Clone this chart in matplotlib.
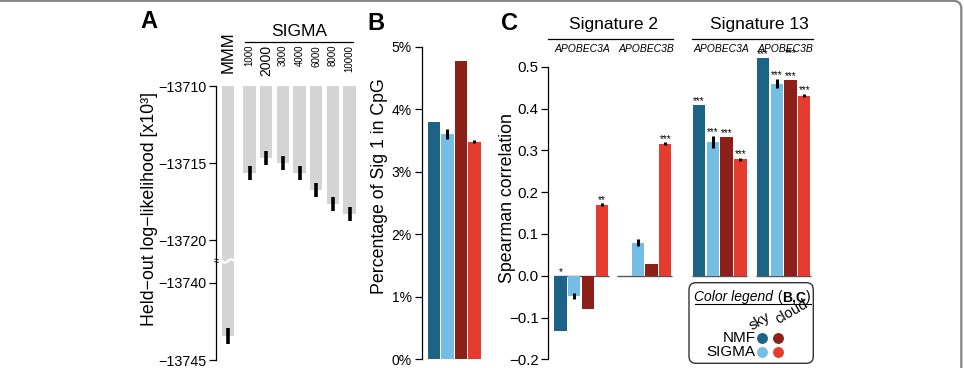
import numpy as np
import matplotlib
matplotlib.use("Agg")
import matplotlib.pyplot as plt
from matplotlib.patches import FancyBboxPatch
from matplotlib.lines import Line2D

plt.rcParams['font.family'] = ['Liberation Sans', 'DejaVu Sans']

# ---------------- data ----------------
a_labels = ["MMM", "1000", "2000", "3000", "4000", "6000", "8000", "10000"]
a_values = [-13743.44, -13715.66, -13714.65, -13714.97, -13715.66, -13716.74, -13717.63, -13718.32]
a_errors = [0.53, 0.45, 0.46, 0.45, 0.46, 0.45, 0.45, 0.45]
a_yticks = [-13710, -13715, -13720, -13740, -13745]

b_methods = ["NMF sky", "SIGMA sky", "NMF cloud", "SIGMA cloud"]
b_values = [3.79, 3.60, 4.77, 3.48]
b_errors = [0.0, 0.08, 0.0, 0.02]
b_yticks = [0, 1, 2, 3, 4, 5]

c_signatures = ["Signature 2", "Signature 13"]
c_genes = ["APOBEC3A", "APOBEC3B", "APOBEC3A", "APOBEC3B"]
c_nmf_sky = [-0.133, 0.0, 0.409, 0.520]
c_sigma_sky = [-0.048, 0.079, 0.320, 0.459]
c_nmf_cloud = [-0.079, 0.029, 0.332, 0.469]
c_sigma_cloud = [0.170, 0.316, 0.278, 0.431]
c_sigma_sky_err = [0.007, 0.008, 0.014, 0.011]
c_sigma_cloud_err = [0.003, 0.003, 0.004, 0.003]
c_stars = [["*", "", "", "**"],
           ["", "", "", "***"],
           ["***", "***", "***", "***"],
           ["***", "***", "***", "***"]]
c_yticks = [-0.2, -0.1, 0.0, 0.1, 0.2, 0.3, 0.4, 0.5]

# ---------------- style ----------------
C_NMF_SKY = "#1c6387"
C_SIG_SKY = "#74bde4"
C_NMF_CLOUD = "#8c1f18"
C_SIG_CLOUD = "#e43d30"
GRAY = "#d4d4d4"
W, H = 964, 368

fig = plt.figure(figsize=(W / 100, H / 100), dpi=100)


def rect(x0, ytop, x1, ybot):
    return [x0 / W, 1 - ybot / H, (x1 - x0) / W, (ybot - ytop) / H]


def inch(x, y):
    return (x / 100.0, (H - y) / 100.0)


def style_axis(ax, labelsize=10):
    for s in ["top", "right", "bottom"]:
        ax.spines[s].set_visible(False)
    ax.spines["left"].set_linewidth(0.9)
    ax.tick_params(axis="y", length=5, width=0.9, labelsize=labelsize, pad=2)
    ax.tick_params(axis="x", bottom=False, labelbottom=False)
    ax.patch.set_alpha(0)


def minus(s):
    return s.replace("-", "\u2212")


# ---------------- panel A ----------------
U = -13721.35
OFF = 17.23
EPS = 0.01
L = U - EPS - OFF


def fwd(v):
    v = np.asarray(v, dtype=float)
    return np.where(v >= U, v, np.where(v <= L, v + OFF, U - (U - v) * EPS / (U - L)))


def inv(y):
    y = np.asarray(y, dtype=float)
    return np.where(y >= U, y, np.where(y <= U - EPS, y - OFF, U - (U - y) * (U - L) / EPS))


A_TOP, A_BOT = 86, 360
axA = fig.add_axes(rect(216, A_TOP, 358, A_BOT))
axA.set_yscale("function", functions=(fwd, inv))
axA.set_ylim(-13745, -13710)
a_x = [0.0] + [1.29 + i for i in range(len(a_labels) - 1)]
axA.bar(a_x, np.array(a_values) + 13710, bottom=-13710, width=0.74, color=GRAY, linewidth=0)
axA.errorbar(a_x, a_values, yerr=a_errors, fmt="none", ecolor="black", elinewidth=2.6, capsize=0)
axA.set_xlim(-0.72, 7.8)
style_axis(axA, 10.3)
axA.set_yticks(a_yticks)
axA.set_yticklabels([minus(str(v)) for v in a_yticks])
axA.yaxis.set_minor_locator(matplotlib.ticker.NullLocator())
axA.set_ylabel("Held\u2212out log\u2212likelihood [x10\u00b3]", fontsize=12.8)
axA.yaxis.set_label_coords((150 - 216) / 142, (A_BOT - 209.5) / (A_BOT - A_TOP))
axA.yaxis.label.set_verticalalignment("center")

# break marks
ymin_m = float(fwd(-13745))
brk = (U - ymin_m) / (-13710 - ymin_m)
xt = axA.get_xaxis_transform()
wx = np.linspace(-0.37, 0.37, 40)
wy = brk + 0.006 * np.sin((wx + 0.37) / 0.74 * 2 * np.pi + np.pi)
axA.plot(wx, wy, color="white", lw=1.6, transform=xt, clip_on=False)
axA.text(0, brk, "\u2248", transform=axA.transAxes, ha="center", va="center", fontsize=7)

# labels above A
def a_frac(px):
    return (A_BOT - px) / (A_BOT - A_TOP)

axA.text(a_x[0], a_frac(73), a_labels[0], rotation=90, ha="center", va="bottom",
         fontsize=12, transform=xt, clip_on=False)
for xx, lab in zip(a_x[1:], a_labels[1:]):
    axA.text(xx, a_frac(45), lab, rotation=90, ha="center", va="top",
             fontsize=10 if lab == "2000" else 7, transform=xt, clip_on=False)
axA.text(np.mean(a_x[1:]), a_frac(31), "SIGMA", ha="center", va="center", fontsize=12.5,
         transform=xt, clip_on=False)
axA.plot([1.0, 7.5], [a_frac(41.7)] * 2, color="black", lw=0.9, transform=xt, clip_on=False)

# ---------------- panel B ----------------
B_TOP, B_BOT = 46.7, 359.3
axB = fig.add_axes(rect(421.7, B_TOP, 482, B_BOT))
b_colors = [C_NMF_SKY, C_SIG_SKY, C_NMF_CLOUD, C_SIG_CLOUD]
b_x = np.arange(len(b_values))
axB.bar(b_x, b_values, width=0.92, color=b_colors, linewidth=0)
for xx, v, e in zip(b_x, b_values, b_errors):
    if e > 0:
        axB.errorbar([xx], [v], yerr=[e], fmt="none", ecolor="black", elinewidth=2.2, capsize=0)
axB.set_ylim(0, 5)
axB.set_xlim(-0.9, 3.56)
style_axis(axB, 10)
axB.set_yticks(b_yticks)
axB.set_yticklabels([f"{t}%" for t in b_yticks])
axB.set_ylabel("Percentage of Sig 1 in CpG", fontsize=12.8)
axB.yaxis.set_label_coords((380 - 421.7) / 60.3, (B_BOT - 186.5) / (B_BOT - B_TOP))
axB.yaxis.label.set_verticalalignment("center")

# ---------------- panel C ----------------
C_TOP, C_BOT = 45.8, 359.3
axC = fig.add_axes(rect(548.3, C_TOP, 815, C_BOT))
axC.set_ylim(-0.2, 0.55)
axC.set_xlim(-0.89, 18.5)
style_axis(axC, 10.8)
axC.spines["left"].set_bounds(-0.2, 0.5)
axC.set_yticks(c_yticks)
axC.set_yticklabels([minus(f"{t:.1f}") for t in c_yticks])
axC.set_ylabel("Spearman correlation", fontsize=12.8)
axC.yaxis.set_label_coords((507 - 548.3) / 266.7, (C_BOT - 198) / (C_BOT - C_TOP))
axC.yaxis.label.set_verticalalignment("center")

g_start = [0.0, 4.61, 10.07, 14.72]
series = [(c_nmf_sky, None, C_NMF_SKY), (c_sigma_sky, c_sigma_sky_err, C_SIG_SKY),
          (c_nmf_cloud, None, C_NMF_CLOUD), (c_sigma_cloud, c_sigma_cloud_err, C_SIG_CLOUD)]
for j, (vals, errs, col) in enumerate(series):
    xs = [g + j for g in g_start]
    axC.bar(xs, vals, width=0.9, color=col, linewidth=0, zorder=2)
    if errs is not None:
        axC.errorbar(xs, vals, yerr=errs, fmt="none", ecolor="black", elinewidth=2.2,
                     capsize=0, zorder=3)
for gi, g in enumerate(g_start):
    axC.plot([g - 0.5, g + 3.5], [0, 0], color="#555555", lw=1.0, zorder=1, solid_capstyle="butt")
    for j, (vals, errs, col) in enumerate(series):
        s = c_stars[gi][j]
        if s:
            top = max(vals[gi], 0) + (errs[gi] if errs is not None and vals[gi] > 0 else 0)
            axC.text(g + j, top + 0.009, s, ha="center", va="center", fontsize=7, zorder=4)
# additional mark above Signature 13 / APOBEC3B
axC.text(g_start[3] + 2, 0.532, "***", ha="center", va="center", fontsize=7, clip_on=False)

xtC = axC.get_xaxis_transform()


def c_frac(px):
    return (C_BOT - px) / (C_BOT - C_TOP)

axC.text(3.85, c_frac(25), c_signatures[0], ha="center", va="center", fontsize=12.5,
         transform=xtC, clip_on=False)
axC.text(14.44, c_frac(25), c_signatures[1], ha="center", va="center", fontsize=12.5,
         transform=xtC, clip_on=False)
axC.plot([-0.89, 8.16], [c_frac(39)] * 2, color="black", lw=0.9, transform=xtC, clip_on=False)
axC.plot([9.54, 18.38], [c_frac(39)] * 2, color="black", lw=0.9, transform=xtC, clip_on=False)
for g, gene in zip(g_start, c_genes):
    axC.text(g + 1.6, c_frac(49), gene, ha="center", va="center", fontsize=7.5,
             style="italic", transform=xtC, clip_on=False)

# ---------------- legend box ----------------
t = fig.dpi_scale_trans
x0, y0 = inch(689, 363.3)
x1, y1 = inch(813.3, 282.7)
fig.add_artist(FancyBboxPatch((x0, y0), x1 - x0, y1 - y0,
                              boxstyle="round,pad=0,rounding_size=0.07",
                              transform=t, facecolor="white", edgecolor="#333333", lw=1.0))

renderer = fig.canvas.get_renderer()
cx, cy = inch(694.5, 301.5)
start = cx
for s, kw in [("Color legend", dict(style="italic")), (" (", {}), ("B,C", dict(weight="bold")), (")", {})]:
    tx = fig.text(cx, cy, s, transform=t, fontsize=10, ha="left", va="baseline", **kw)
    bb = tx.get_window_extent(renderer)
    cx = bb.x1 / fig.dpi
fig.add_artist(Line2D([start, cx], [cy - 0.022, cy - 0.022], transform=t, color="black", lw=0.8))

fig.text(*inch(759.5, 321), "sky", transform=t, fontsize=10.5, rotation=30,
         rotation_mode="anchor", ha="center", va="center")
fig.text(*inch(792, 312), "cloud", transform=t, fontsize=10.5, rotation=30,
         rotation_mode="anchor", ha="center", va="center")
fig.text(*inch(755.5, 338), "NMF", transform=t, fontsize=11, ha="right", va="center")
fig.text(*inch(755.5, 351.7), "SIGMA", transform=t, fontsize=11, ha="right", va="center")
for (px_, py_), col in [((762, 338), C_NMF_SKY), ((777.5, 338), C_NMF_CLOUD),
                        ((762, 351.7), C_SIG_SKY), ((777.5, 351.7), C_SIG_CLOUD)]:
    fig.add_artist(Line2D([inch(px_, py_)[0]], [inch(px_, py_)[1]], transform=t, marker="o",
                          ms=6.8, color=col, linestyle="none"))

# ---------------- panel letters ----------------
for lab, (px_, py_) in [("A", (148.5, 22)), ("B", (376, 23.5)), ("C", (509, 23.5))]:
    fig.text(*inch(px_, py_), lab, transform=t, fontsize=17, weight="bold",
             ha="center", va="center")

# ---------------- outer frame ----------------
fx0, fy0 = inch(-20, 390)
fx1, fy1 = inch(961.3, 0.8)
fig.add_artist(FancyBboxPatch((fx0, fy0), fx1 - fx0, fy1 - fy0,
                              boxstyle="round,pad=0,rounding_size=0.08",
                              transform=t, facecolor="none", edgecolor="#858585", lw=1.6,
                              clip_on=False))

fig.savefig("out.png", dpi=100)
